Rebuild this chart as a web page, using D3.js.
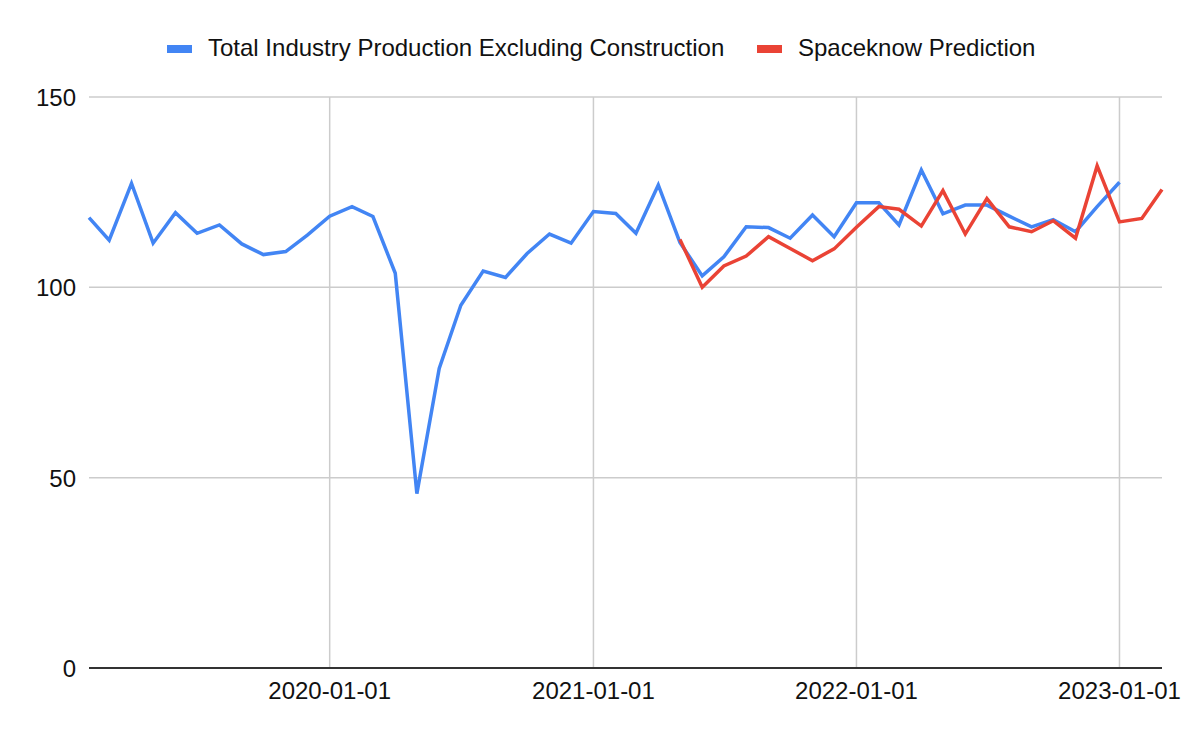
<!DOCTYPE html>
<html>
<head>
<meta charset="utf-8">
<script src="https://cdn.jsdelivr.net/npm/d3@7"></script>
<style>
  body { margin: 0; background: #fff; }
  svg { font-family: Arial, "Liberation Sans", sans-serif; }
</style>
</head>
<body>
<svg id="chart" width="1200" height="742"></svg>
<script>
// monthly index values
const productionStart = "2019-02-01";
const productionValues = [
  118.3, 112.4, 127.3, 111.6, 119.6, 114.2, 116.4, 111.4, 108.6, 109.4, 113.7,
  118.7, 121.2, 118.6, 103.7, 45.8, 78.7, 95.3, 104.3, 102.6, 108.9, 114.0, 111.6,
  119.9, 119.4, 114.2, 126.9, 111.8, 103.0, 108.0, 115.9, 115.7, 112.9, 119.0, 113.3,
  122.2, 122.2, 116.4, 130.8, 119.3, 121.6, 121.6, 118.7, 115.9, 117.8, 114.6, 121.2,
  127.6
];

const predictionStart = "2021-05-01";
const predictionValues = [
  112.6, 100.0, 105.6, 108.2, 113.3, 110.2, 107.0, 110.1,
  115.8, 121.2, 120.5, 116.1, 125.4, 114.0, 123.3, 115.9, 114.6, 117.5, 112.9, 131.9,
  117.2, 118.1, 125.7
];

const yTicks = [0, 50, 100, 150];
const xTicks = ["2020-01-01", "2021-01-01", "2022-01-01", "2023-01-01"];

const seriesNames = ["Total Industry Production Excluding Construction", "Spaceknow Prediction"];
const seriesColors = ["#4285f4", "#ea4335"];

const parseDate = d3.timeParse("%Y-%m-%d");

const toPoints = (start, values) => {
  const first = parseDate(start);
  return values.map((v, i) => ({ date: d3.timeMonth.offset(first, i), value: v }));
};

const production = toPoints(productionStart, productionValues);
const prediction = toPoints(predictionStart, predictionValues);

const svg = d3.select("#chart");
const margin = { left: 89, right: 38, top: 97, bottom: 74 };
const width = 1200;
const height = 742;

const x = d3.scaleTime()
  .domain([parseDate("2019-02-01"), parseDate("2023-03-01")])
  .range([margin.left, width - margin.right]);

const y = d3.scaleLinear()
  .domain([0, 150])
  .range([height - margin.bottom, margin.top]);

// horizontal grid
svg.append("g")
  .selectAll("line")
  .data(yTicks.filter((t) => t !== 0))
  .enter()
  .append("line")
  .attr("x1", margin.left)
  .attr("x2", width - margin.right)
  .attr("y1", (t) => y(t))
  .attr("y2", (t) => y(t))
  .attr("stroke", "#cccccc")
  .attr("stroke-width", 1.5);

// vertical grid
svg.append("g")
  .selectAll("line")
  .data(xTicks)
  .enter()
  .append("line")
  .attr("x1", (t) => x(parseDate(t)))
  .attr("x2", (t) => x(parseDate(t)))
  .attr("y1", margin.top)
  .attr("y2", height - margin.bottom)
  .attr("stroke", "#cccccc")
  .attr("stroke-width", 1.5);

// y labels
svg.append("g")
  .selectAll("text")
  .data(yTicks)
  .enter()
  .append("text")
  .attr("x", 76)
  .attr("y", (t) => y(t) + 9)
  .attr("text-anchor", "end")
  .attr("font-size", 24)
  .attr("fill", "#111")
  .text((t) => t);

// x labels
svg.append("g")
  .selectAll("text")
  .data(xTicks)
  .enter()
  .append("text")
  .attr("x", (t) => x(parseDate(t)))
  .attr("y", 699)
  .attr("text-anchor", "middle")
  .attr("font-size", 24)
  .attr("fill", "#111")
  .text((t) => t);

// lines
const line = d3.line()
  .x((d) => x(d.date))
  .y((d) => y(d.value));

svg.append("path")
  .datum(production)
  .attr("d", line)
  .attr("fill", "none")
  .attr("stroke", seriesColors[0])
  .attr("stroke-width", 3.5)
  .attr("stroke-linejoin", "miter");

svg.append("path")
  .datum(prediction)
  .attr("d", line)
  .attr("fill", "none")
  .attr("stroke", seriesColors[1])
  .attr("stroke-width", 3.5)
  .attr("stroke-linejoin", "miter");

// baseline
svg.append("line")
  .attr("x1", margin.left)
  .attr("x2", width - margin.right)
  .attr("y1", y(0))
  .attr("y2", y(0))
  .attr("stroke", "#333")
  .attr("stroke-width", 2);

// legend
const legendX = [167, 757];
const legend = svg.append("g")
  .selectAll("g")
  .data(seriesNames)
  .enter()
  .append("g")
  .attr("transform", (d, i) => "translate(" + legendX[i] + ", 45)");

legend.append("rect")
  .attr("width", 25)
  .attr("height", 8)
  .attr("fill", (d, i) => seriesColors[i]);

legend.append("text")
  .attr("x", 41)
  .attr("y", 11)
  .attr("font-size", 24)
  .attr("fill", "#111")
  .text((d) => d);
</script>
</body>
</html>
